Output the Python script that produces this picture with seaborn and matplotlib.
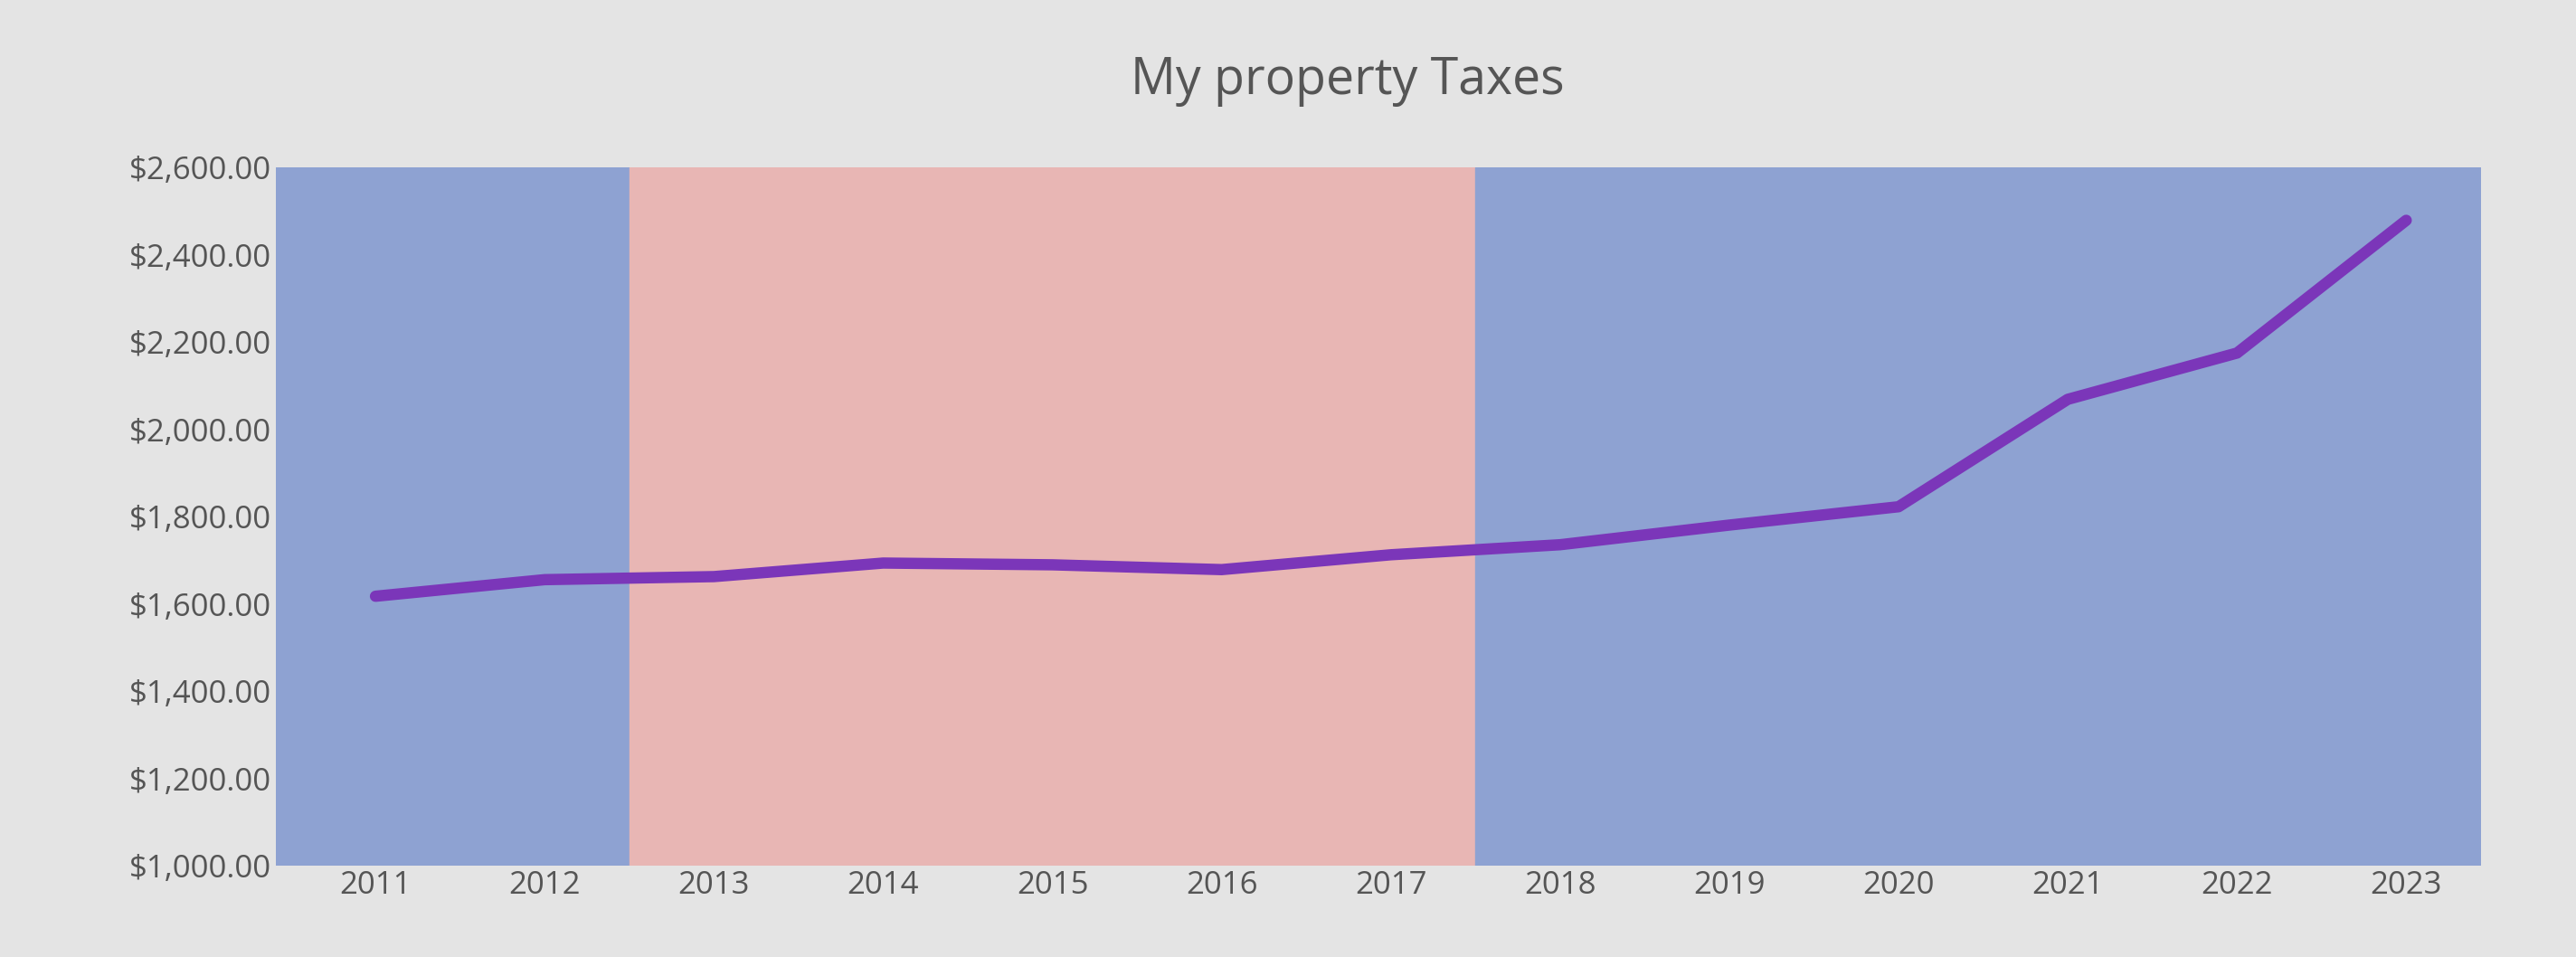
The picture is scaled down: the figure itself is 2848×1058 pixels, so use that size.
import matplotlib
matplotlib.use("Agg")
import matplotlib.pyplot as plt
import seaborn as sns
import pandas as pd
from matplotlib.ticker import FuncFormatter

years = [2011, 2012, 2013, 2014, 2015, 2016, 2017, 2018, 2019, 2020, 2021, 2022, 2023]
taxes = [1618, 1656, 1663, 1694, 1690, 1679, 1713, 1736, 1781, 1823, 2069, 2175, 2479]
bands = [(-0.6, 1.5, "#8ea2d2"), (1.5, 6.5, "#e8b6b4"), (6.5, 12.5, "#8ea2d2")]

sns.set_style("white")
plt.rcParams['font.family'] = ['Open Sans', 'DejaVu Sans']
fig = plt.figure(figsize=(28.48, 10.58), dpi=100, facecolor="#e4e4e4")
ax = fig.add_axes([0.107, 0.095, 0.856, 0.73])
df = pd.DataFrame({"idx": range(len(years)), "tax": taxes})
for a, b, c in bands:
    ax.axvspan(a, b, color=c, zorder=0)
sns.lineplot(data=df, x="idx", y="tax", ax=ax, color="#7b36b9", linewidth=9, zorder=3)
ax.set_xlim(-0.59, 12.44)
ax.set_ylim(1000, 2600)
ax.set_yticks(range(1000, 2601, 200))
ax.yaxis.set_major_formatter(FuncFormatter(lambda v, p: f"${v:,.2f}"))
ax.set_xticks(range(len(years)))
ax.set_xticklabels([str(y) for y in years])
ax.tick_params(axis="both", labelsize=25, colors="#555555", length=0)
ax.set_xlabel(""); ax.set_ylabel("")
for s in ax.spines.values():
    s.set_visible(False)
fig.text(0.523, 0.915, "My property Taxes", ha="center", va="center", fontsize=40, color="#555555")
fig.savefig("out.png", dpi=100, facecolor=fig.get_facecolor())
